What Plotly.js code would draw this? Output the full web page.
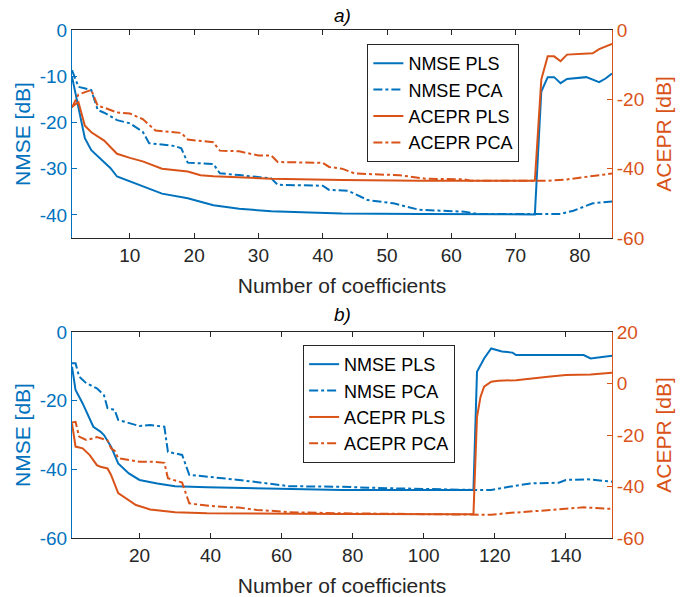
<!DOCTYPE html>
<html><head><meta charset="utf-8">
<script src="https://cdn.plot.ly/plotly-3.0.1.min.js"></script>
<style>html,body{margin:0;padding:0;background:#fff}</style>
</head><body><div id="chart" style="width:697px;height:597px"></div>
<script>
// ---- panel a) ----
const xNmsePlsA = [1,2,3,4,6,7,8,10,12,15,19,23,27,32,38,43,55,65,73,74,75,76,77,78,81,83,84,85];
const yNmsePlsA = [-10.1,-17,-23.4,-26,-28.5,-29.9,-31.7,-32.8,-33.9,-35.4,-36.4,-37.9,-38.7,-39.2,-39.5,-39.7,-39.8,-39.9,-39.9,-13.3,-10.2,-10.2,-11.5,-10.6,-10.2,-11.3,-10.5,-9.4];
const xNmsePcaA = [1,2,4,5,6,8,10,12,13,17,18,19,23,24,27,32,33,40,41,44,47,51,55,62,64,77,79,82,85];
const yNmsePcaA = [-8.7,-12.3,-13,-17.3,-17.9,-19.5,-20.2,-22,-24.5,-25.1,-25.6,-28.7,-29,-31,-31.4,-32.1,-33.5,-33.7,-34.6,-34.8,-36.8,-37.5,-38.9,-39.3,-39.8,-39.8,-39.1,-37.5,-37.1];
const xAceprPlsA = [1,2,3,4,6,8,10,12,15,19,21,23,32,43,55,73,74,75,76,77,78,80,82,83,85];
const yAceprPlsA = [-22.1,-20.8,-27.6,-29.5,-31.9,-35.7,-36.9,-37.9,-40,-40.8,-41.9,-42.2,-42.9,-43.3,-43.5,-43.5,-14.3,-7.6,-7.6,-9,-7.1,-6.8,-6.7,-5.5,-4];
const xAceprPcaA = [1,2,4,5,6,8,10,12,14,18,19,23,24,27,30,32,33,40,41,43,45,52,56,62,63,75,78,81,85];
const yAceprPcaA = [-22.4,-18.6,-17.3,-21.9,-22.4,-23.8,-24.1,-25.7,-29,-29.7,-31.6,-32.4,-34.8,-35,-36.2,-36.2,-38.1,-38.3,-39.5,-40,-41.4,-41.9,-42.9,-43.1,-43.5,-43.5,-43.1,-42.4,-41.4];

// ---- panel b) ----
const xNmsePlsB = [1,2,4,7,9,10,12,14,17,20,25,30,39,58,77,114,115,117,119,122,125,126,140,145,147,153];
const yNmsePlsB = [-10.1,-16.9,-20.8,-27.6,-29,-30,-33.4,-38.3,-41.2,-43.1,-44.1,-44.9,-45.2,-45.7,-46,-46,-11.6,-7.7,-4.8,-5.7,-6,-6.7,-6.7,-6.7,-7.7,-6.9];
const xNmsePcaB = [1,2,3,5,8,10,11,13,14,17,20,23,27,28,30,32,34,39,48,56,62,77,90,114,119,124,130,138,140,146,153];
const yNmsePcaB = [-9.1,-9.1,-13,-14.9,-16.4,-18.4,-22.2,-22.7,-25.6,-26.6,-27.4,-27.1,-27.6,-34.9,-35.4,-35.8,-41.6,-42.1,-43.1,-44.1,-44.9,-45.1,-45.5,-46,-46,-45.1,-44.1,-43.9,-43.1,-42.9,-43.6];
const xAceprPlsB = [1,2,4,6,8,9,11,12,14,17,19,23,25,30,39,58,77,114,115,116,117,119,121,126,130,135,140,147,153];
const yAceprPlsB = [-15.5,-24.5,-25.2,-27.8,-31.7,-32.3,-33,-35.5,-42.6,-45.2,-47.2,-48.9,-49.2,-50,-50.4,-50.6,-50.7,-50.8,-12.9,-5.1,-1.2,0.7,1.1,1.3,2,2.6,3.3,3.5,4.2];
const xAceprPcaB = [1,2,3,5,7,8,11,12,13,14,20,24,27,28,32,34,37,42,48,53,58,62,77,90,114,119,123,130,138,145,153];
const yAceprPcaB = [-15.2,-14.9,-20.6,-21.9,-21.3,-20.8,-22.1,-25.2,-26.1,-29,-30.4,-30.4,-30.8,-36.8,-38.5,-46.5,-47.1,-47.8,-48.2,-49.1,-49.5,-50,-50.4,-50.6,-50.8,-51,-50.4,-49.8,-48.9,-48.1,-48.7];

// ---- ticks ----
const xTicksA = [10,20,30,40,50,60,70,80];
const xTicksB = [20,40,60,80,100,120,140];
const yLeftTicksA = [-40,-30,-20,-10,0];
const yRightTicksA = [-60,-40,-20,0];
const yLeftTicksB = [-60,-40,-20,0];
const yRightTicksB = [-60,-40,-20,0,20];
const seriesNames = ['NMSE PLS','NMSE PCA','ACEPR PLS','ACEPR PCA'];

const BLUE = '#0072BD', ORANGE = '#D95319', DARK = '#262626';
const FONT = 'Liberation Sans, Arial, sans-serif';
const lbl = v => v.map(t => String(t));

function tr(x, y, name, color, dash, xa, ya, leg) {
  return {x: x, y: y, name: name, type: 'scatter', mode: 'lines',
    line: {color: color, width: 2, dash: dash}, xaxis: xa, yaxis: ya, legend: leg};
}
const data = [
  tr(xNmsePlsA, yNmsePlsA, seriesNames[0], BLUE, 'solid', 'x', 'y', 'legend'),
  tr(xNmsePcaA, yNmsePcaA, seriesNames[1], BLUE, 'dashdot', 'x', 'y', 'legend'),
  tr(xAceprPlsA, yAceprPlsA, seriesNames[2], ORANGE, 'solid', 'x', 'y2', 'legend'),
  tr(xAceprPcaA, yAceprPcaA, seriesNames[3], ORANGE, 'dashdot', 'x', 'y2', 'legend'),
  tr(xNmsePlsB, yNmsePlsB, seriesNames[0], BLUE, 'solid', 'x2', 'y3', 'legend2'),
  tr(xNmsePcaB, yNmsePcaB, seriesNames[1], BLUE, 'dashdot', 'x2', 'y3', 'legend2'),
  tr(xAceprPlsB, yAceprPlsB, seriesNames[2], ORANGE, 'solid', 'x2', 'y4', 'legend2'),
  tr(xAceprPcaB, yAceprPcaB, seriesNames[3], ORANGE, 'dashdot', 'x2', 'y4', 'legend2')
];

function xax(range, ticks, anchor) {
  return {domain: [0, 1], anchor: anchor, range: range, tickmode: 'array', tickvals: ticks, ticktext: lbl(ticks),
    ticks: 'inside', ticklen: 5, tickcolor: DARK, showline: true, linecolor: DARK, linewidth: 1,
    mirror: 'ticks', showgrid: false, zeroline: false, tickfont: {family: FONT, size: 19, color: DARK},
    title: {text: 'Number of coefficients', font: {family: FONT, size: 21, color: DARK}, standoff: 13}};
}
function yax(domain, range, ticks, color, side, anchor, title, standoff, overlaying) {
  const a = {domain: domain, anchor: anchor, side: side, range: range, tickmode: 'array', tickvals: ticks,
    ticktext: lbl(ticks), ticks: 'inside', ticklen: 5, tickcolor: color, showline: true, linecolor: color,
    linewidth: 1, showgrid: false, zeroline: false, tickfont: {family: FONT, size: 19, color: color},
    title: {text: title, font: {family: FONT, size: 21, color: color}, standoff: standoff}};
  if (overlaying) { a.overlaying = overlaying; delete a.domain; }
  return a;
}
const legStyle = (x, y) => ({x: x, y: y, xanchor: 'left', yanchor: 'top', bgcolor: '#fff',
  bordercolor: DARK, borderwidth: 1, font: {family: FONT, size: 18, color: '#000'}, tracegroupgap: 0});

const layout = {
  width: 697, height: 597, margin: {l: 72, r: 85, t: 30, b: 59},
  paper_bgcolor: '#fff', plot_bgcolor: '#fff', font: {family: FONT},
  xaxis: xax([1, 85], xTicksA, 'y'),
  yaxis: yax([0.5906, 1], [-45, 0], yLeftTicksA, BLUE, 'left', 'x', 'NMSE [dB]', 3),
  yaxis2: yax(null, [-60, 0], yRightTicksA, ORANGE, 'right', 'x', 'ACEPR [dB]', 13, 'y'),
  xaxis2: xax([1, 153], xTicksB, 'y3'),
  yaxis3: yax([0, 0.4055], [-60, 0], yLeftTicksB, BLUE, 'left', 'x2', 'NMSE [dB]', 3),
  yaxis4: yax(null, [-60, 20], yRightTicksB, ORANGE, 'right', 'x2', 'ACEPR [dB]', 13, 'y3'),
  legend: legStyle(0.547, 0.9724),
  legend2: legStyle(0.428, 0.380),
  annotations: [
    {text: '<i>a)</i>', xref: 'paper', yref: 'paper', x: 0.5, y: 1.0295, showarrow: false,
     xanchor: 'center', yanchor: 'middle', font: {family: FONT, size: 19, color: '#000'}},
    {text: '<i>b)</i>', xref: 'paper', yref: 'paper', x: 0.5, y: 0.439, showarrow: false,
     xanchor: 'center', yanchor: 'middle', font: {family: FONT, size: 19, color: '#000'}}
  ],
  showlegend: true
};
Plotly.newPlot('chart', data, layout, {staticPlot: true, displayModeBar: false});
</script></body></html>
